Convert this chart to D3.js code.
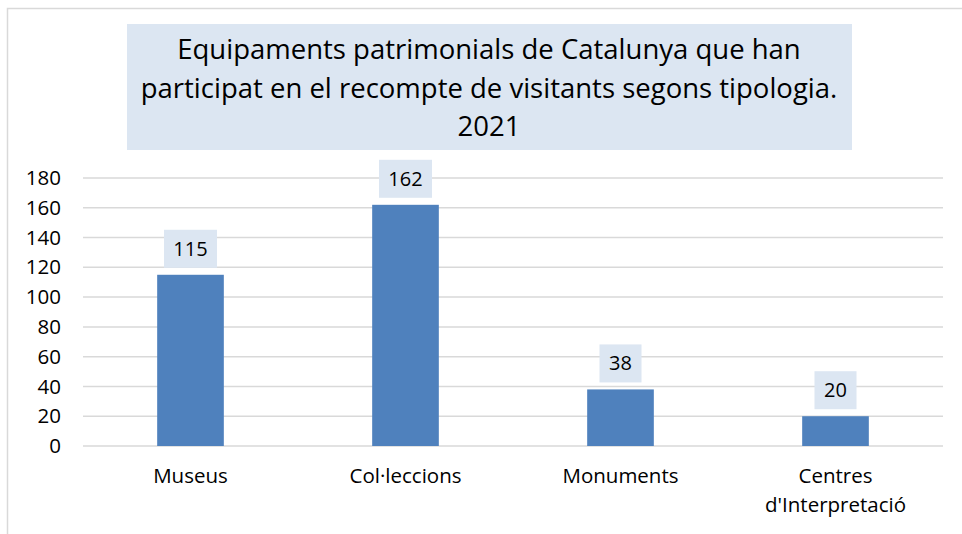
<!DOCTYPE html>
<meta charset="utf-8">
<style>
  body { margin: 0; background: #fff; }
  svg text { font-family: "Open Sans", sans-serif; fill: #000; }
</style>
<svg width="962" height="534"></svg>
<script src="https://cdn.jsdelivr.net/npm/d3@7/dist/d3.min.js"></script>
<script>
// data
var categories = ["Museus", "Col·leccions", "Monuments", "Centres\nd'Interpretació"];
var values = [115, 162, 38, 20];
var yTicks = [0, 20, 40, 60, 80, 100, 120, 140, 160, 180];
var titleLines = ["Equipaments patrimonials de Catalunya que han",
                  "participat en el recompte de visitants segons tipologia.",
                  "2021"];

var svg = d3.select("svg");

// outer chart frame (only top and left edges are visible)
svg.append("rect")
  .attr("x", 7.5).attr("y", 8.5)
  .attr("width", 980).attr("height", 540)
  .attr("fill", "#fff").attr("stroke", "#d9d9d9").attr("stroke-width", 1.5);

// title box
svg.append("rect")
  .attr("x", 127).attr("y", 24)
  .attr("width", 725).attr("height", 126)
  .attr("fill", "#dce6f2");

svg.selectAll("text.title")
  .data(titleLines)
  .enter().append("text")
  .attr("class", "title")
  .attr("x", 489)
  .attr("y", function(d, i) { return 59 + i * 38.5; })
  .attr("text-anchor", "middle")
  .style("font-size", "27.5px")
  .text(function(d) { return d; });

// scales
var x = d3.scaleBand().domain(categories).range([83, 943]).paddingInner(0.69).paddingOuter(0.345);
var y = d3.scaleLinear().domain([0, 180]).range([446, 178]);

// gridlines
svg.append("g")
  .selectAll("line")
  .data(yTicks)
  .enter().append("line")
  .attr("x1", 83).attr("x2", 943)
  .attr("y1", function(d) { return y(d); })
  .attr("y2", function(d) { return y(d); })
  .attr("stroke", "#d9d9d9").attr("stroke-width", 1.5);

// y axis labels
var yAxis = svg.append("g")
  .attr("transform", "translate(70,0)")
  .call(d3.axisLeft(y).tickValues(yTicks).tickSize(0).tickPadding(9));
yAxis.select(".domain").remove();
yAxis.selectAll("text").style("font-size", "20.5px").style("font-family", "'Open Sans', sans-serif");

// bars
svg.selectAll("rect.bar")
  .data(values)
  .enter().append("rect")
  .attr("class", "bar")
  .attr("x", function(d, i) { return x(categories[i]); })
  .attr("width", x.bandwidth())
  .attr("y", function(d) { return y(d); })
  .attr("height", function(d) { return y(0) - y(d); })
  .attr("fill", "#4f81bd");

// value labels with boxes
var lab = svg.selectAll("g.lab")
  .data(values)
  .enter().append("g")
  .attr("class", "lab")
  .attr("transform", function(d, i) {
    return "translate(" + (x(categories[i]) + x.bandwidth() / 2) + "," + (y(d) - 7) + ")";
  });
lab.append("rect")
  .attr("x", function(d) { return String(d).length > 2 ? -26.5 : -21; })
  .attr("width", function(d) { return String(d).length > 2 ? 53 : 42; })
  .attr("y", -38).attr("height", 38)
  .attr("fill", "#dce6f2");
lab.append("text")
  .attr("y", -12)
  .attr("text-anchor", "middle")
  .style("font-size", "20px")
  .text(function(d) { return d; });

// x axis labels
var xl = svg.selectAll("text.xlab")
  .data(categories)
  .enter().append("text")
  .attr("class", "xlab")
  .attr("x", function(d) { return x(d) + x.bandwidth() / 2; })
  .attr("y", 483)
  .attr("text-anchor", "middle")
  .style("font-size", "20.5px");
xl.selectAll("tspan")
  .data(function(d) { return d.split("\n"); })
  .enter().append("tspan")
  .attr("x", function() { return d3.select(this.parentNode).attr("x"); })
  .attr("dy", function(d, i) { return i ? 29 : 0; })
  .text(function(d) { return d; });
</script>
